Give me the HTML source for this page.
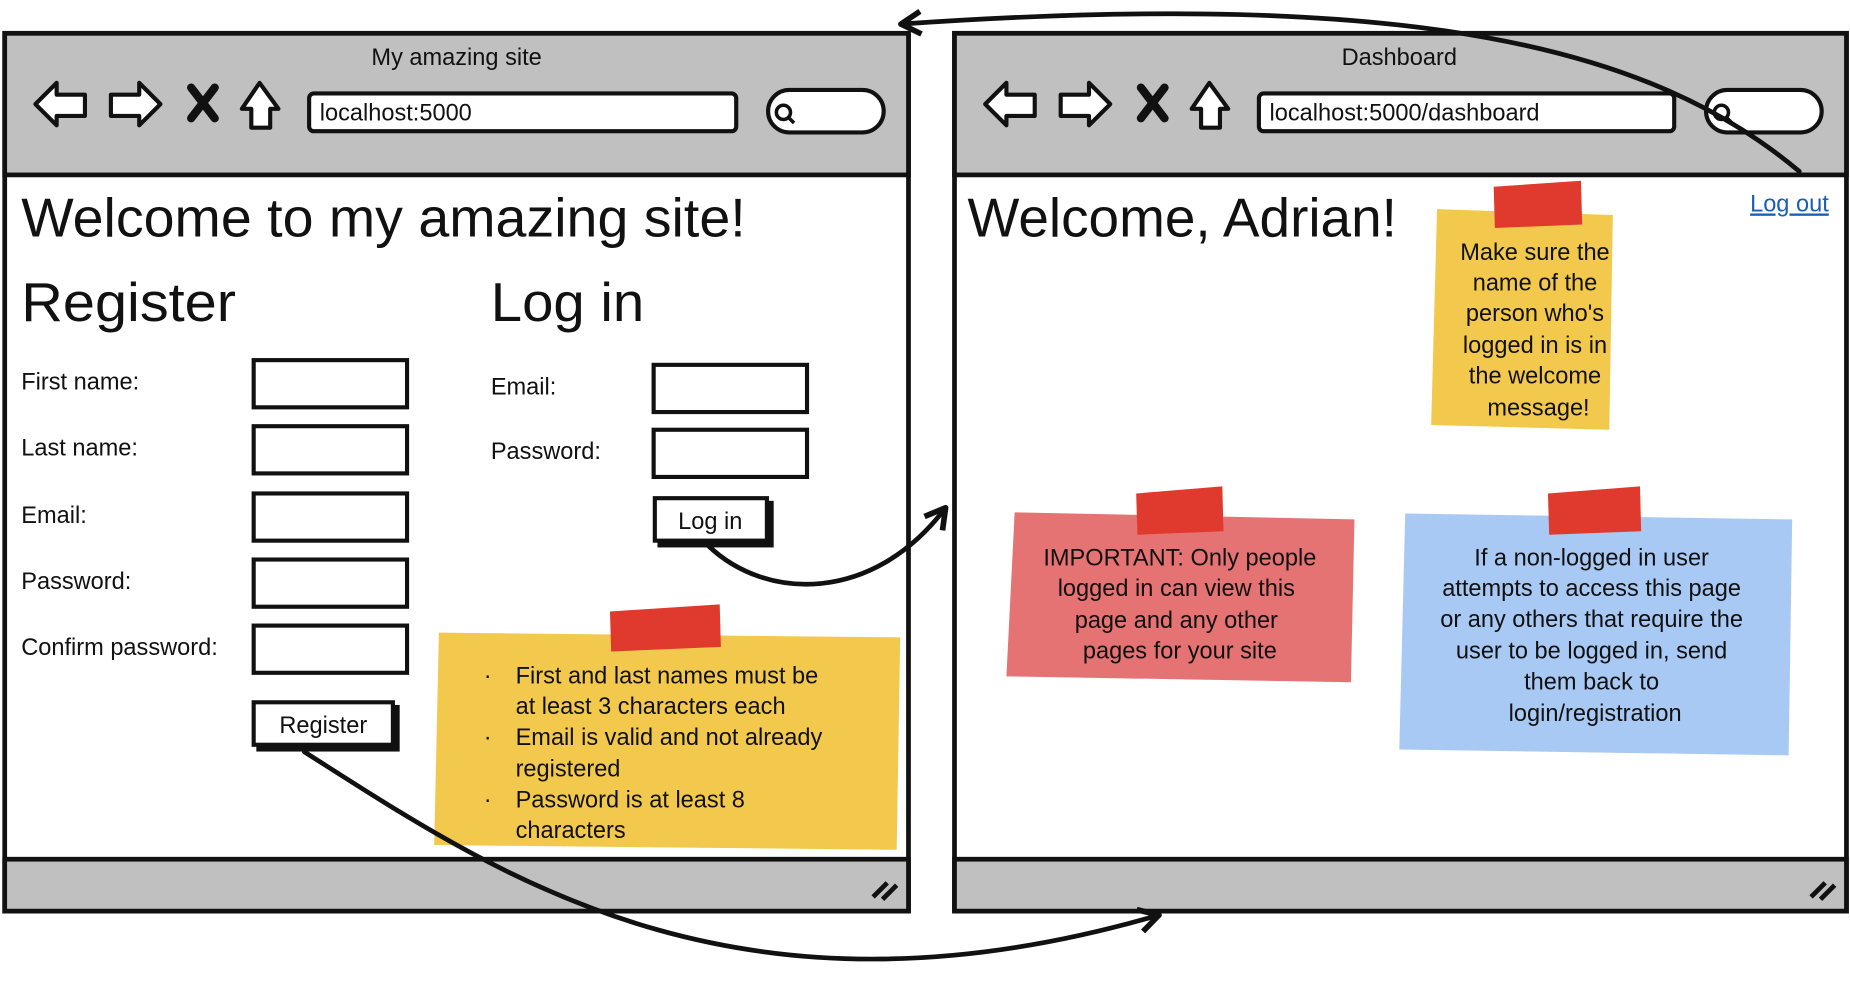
<!DOCTYPE html>
<html><head><meta charset="utf-8"><style>
html,body{margin:0;padding:0;background:#fff;}
svg{display:block}
text{font-family:"Liberation Sans","DejaVu Sans",sans-serif;fill:#111}
</style></head><body>
<svg width="1850" height="994" viewBox="0 0 1568 842" xmlns="http://www.w3.org/2000/svg">
<defs>
<marker id="ah" markerWidth="24" markerHeight="24" refX="14" refY="10" orient="auto" markerUnits="userSpaceOnUse" viewBox="0 0 20 20">
<path d="M2,2 L16,10 L2,18" fill="none" stroke="#111" stroke-width="4" stroke-linejoin="round"/>
</marker>
</defs>
<g stroke="#111" stroke-width="4">
<rect x="4" y="28" width="766" height="744" fill="#fff"/>
<rect x="4" y="28" width="766" height="120" fill="#c0c0c0"/>
<rect x="4" y="728" width="766" height="44" fill="#c0c0c0"/>
<rect x="809" y="28" width="756" height="744" fill="#fff"/>
<rect x="809" y="28" width="756" height="120" fill="#c0c0c0"/>
<rect x="809" y="728" width="756" height="44" fill="#c0c0c0"/>
</g>
<g stroke="#111" stroke-width="3.5" fill="#fff" stroke-linejoin="round">
<path d="M30,88 L48,70 L48,80 L72,80 L72,98 L48,98 L48,106 Z"/>
<path d="M136,88 L118,70 L118,80 L94,80 L94,98 L118,98 L118,106 Z"/>
<path d="M205,92 L220,70 L236,92 L229,92 L229,108 L213,108 L213,92 Z"/>
<rect x="262" y="79" width="362" height="32" rx="4"/>
<rect x="651" y="76" width="98" height="36" rx="18"/>
<path d="M835,88 L853,70 L853,80 L877,80 L877,98 L853,98 L853,106 Z"/>
<path d="M941,88 L923,70 L923,80 L899,80 L899,98 L923,98 L923,106 Z"/>
<path d="M1010,92 L1025,70 L1041,92 L1034,92 L1034,108 L1018,108 L1018,92 Z"/>
<rect x="1067" y="79" width="352" height="32" rx="4"/>
<rect x="1446" y="76" width="98" height="36" rx="18"/>
</g>
<g stroke="#111" stroke-width="7" stroke-linecap="round">
<path d="M162,74 L182,100 M182,74 L162,100"/>
<path d="M967,74 L987,100 M987,74 L967,100"/>
</g>
<g stroke="#111" stroke-width="3" fill="none">
<circle cx="664" cy="95" r="6"/><path d="M668,99 L673,104"/>
<circle cx="1459" cy="95" r="6"/><path d="M1463,99 L1468,104"/>
<path d="M740,760 L752,748 M748,762 L760,750 M1535,760 L1547,748 M1543,762 L1555,750" stroke-width="4"/>
</g>
<text x="387" y="55" font-size="20" text-anchor="middle">My amazing site</text>
<text x="1186" y="55" font-size="20" text-anchor="middle">Dashboard</text>
<text x="271" y="102" font-size="20">localhost:5000</text>
<text x="1076" y="102" font-size="20">localhost:5000/dashboard</text>

<text x="18" y="200" font-size="46" textLength="614" lengthAdjust="spacingAndGlyphs">Welcome to my amazing site!</text>
<text x="18" y="272" font-size="46" textLength="182" lengthAdjust="spacingAndGlyphs">Register</text>
<text x="416" y="272" font-size="46" textLength="130" lengthAdjust="spacingAndGlyphs">Log in</text>
<g font-size="20">
<text x="18" y="330">First name:</text>
<text x="18" y="386">Last name:</text>
<text x="18" y="443">Email:</text>
<text x="18" y="499">Password:</text>
<text x="18" y="555">Confirm password:</text>
<text x="416" y="334">Email:</text>
<text x="416" y="389">Password:</text>
</g>
<g stroke="#111" stroke-width="3.5" fill="#fff">
<rect x="215" y="305" width="130" height="40"/>
<rect x="215" y="361" width="130" height="40"/>
<rect x="215" y="418" width="130" height="40"/>
<rect x="215" y="474" width="130" height="40"/>
<rect x="215" y="530" width="130" height="40"/>
<rect x="554" y="309" width="130" height="40"/>
<rect x="554" y="364" width="130" height="40"/>
<rect x="219" y="599" width="118" height="36" fill="#111"/>
<rect x="215" y="595" width="118" height="36"/>
<rect x="559" y="426" width="95" height="36" fill="#111"/>
<rect x="555" y="422" width="95" height="36"/>
</g>
<text x="274" y="621" font-size="20" text-anchor="middle">Register</text>
<text x="602" y="448" font-size="20" text-anchor="middle">Log in</text>

<path d="M372,536 L763,540 L760,720 L368,716 Z" fill="#f2c94c"/>
<path d="M517,518 L610,512 L611,548 L518,552 Z" fill="#e03a2f"/>
<g font-size="20">
<text x="410" y="579">·</text><text x="437" y="579">First and last names must be</text>
<text x="437" y="605">at least 3 characters each</text>
<text x="410" y="631">·</text><text x="437" y="631">Email is valid and not already</text>
<text x="437" y="658">registered</text>
<text x="410" y="684">·</text><text x="437" y="684">Password is at least 8</text>
<text x="437" y="710">characters</text>
</g>
<text x="820" y="200" font-size="46" textLength="364" lengthAdjust="spacingAndGlyphs">Welcome, Adrian!</text>
<text x="1550" y="179" font-size="20" text-anchor="end" style="fill:#1a5fb4" text-decoration="underline">Log out</text>

<path d="M1218,177 L1367,182 L1364,364 L1213,360 Z" fill="#f2c94c"/>
<path d="M1266,158 L1340,153 L1341,190 L1267,193 Z" fill="#e03a2f"/>
<g font-size="20" text-anchor="middle">
<text x="1301" y="220">Make sure the</text>
<text x="1301" y="246">name of the</text>
<text x="1301" y="272">person who's</text>
<text x="1301" y="299">logged in is in</text>
<text x="1301" y="325">the welcome</text>
<text x="1304" y="352">message!</text>
</g>
<path d="M860,434 L1148,440 L1145,578 L853,573 Z" fill="#e57373"/>
<path d="M963,418 L1036,412 L1037,450 L964,453 Z" fill="#e03a2f"/>
<g font-size="20" text-anchor="middle">
<text x="1000" y="479">IMPORTANT: Only people</text>
<text x="997" y="505">logged in can view this</text>
<text x="997" y="532">page and any other</text>
<text x="1000" y="558">pages for your site</text>
</g>
<path d="M1191,435 L1519,440 L1516,640 L1186,635 Z" fill="#a9c9f5"/>
<path d="M1312,418 L1390,412 L1391,450 L1313,453 Z" fill="#e03a2f"/>
<g font-size="20" text-anchor="middle">
<text x="1349" y="479">If a non-logged in user</text>
<text x="1349" y="505">attempts to access this page</text>
<text x="1349" y="531">or any others that require the</text>
<text x="1349" y="558">user to be logged in, send</text>
<text x="1349" y="584">them back to</text>
<text x="1352" y="611">login/registration</text>
</g>

<g fill="none" stroke="#111" stroke-width="4" stroke-linecap="round" marker-end="url(#ah)">
<path d="M600,462 C650,510 740,510 800,432"/>
<path d="M258,637 C420,740 620,880 980,776"/>
<path d="M1525,145 C1400,40 1200,-10 766,20"/>
</g>
</svg>
</body></html>
